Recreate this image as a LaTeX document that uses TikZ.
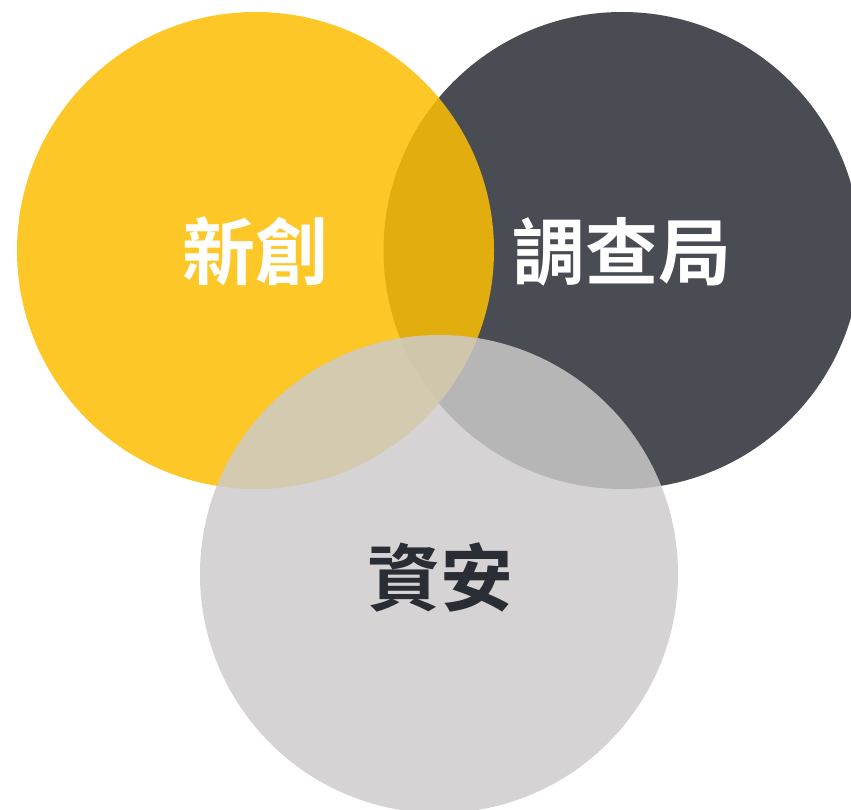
\documentclass[tikz,border=0pt]{standalone}
\usepackage{fontspec}
\newfontfamily\cjkb[BoldFont={Noto Sans CJK TC Bold}]{Noto Sans CJK TC}
\definecolor{cyellow}{RGB}{253,190,2}
\definecolor{cdark}{RGB}{74,76,84}
\definecolor{cgray}{RGB}{205,203,203}
\definecolor{ctext}{RGB}{43,45,53}
\tikzset{
  lbl/.style={font=\cjkb\bfseries\fontsize{73}{73}\selectfont, inner sep=0pt},
}
\begin{document}
\begin{tikzpicture}[x=1pt,y=-1pt]
\useasboundingbox (0,0) rectangle (851,810);
\clip (0,0) rectangle (851,810);
\fill[white] (0,0) rectangle (851,810);
\fill[cdark] (622,250.5) circle[radius=238.5];
\fill[cyellow, fill opacity=0.85] (255.5,250.5) circle[radius=238.5];
\fill[cgray, fill opacity=0.84] (439,574) circle[radius=239];
\node[lbl, text=white] (xinchuang) at (255,251) {新創};
\node[lbl, text=white] (diaocha) at (621.5,252) {調查局};
\node[lbl, text=ctext] (zian) at (440,577) {資安};
\end{tikzpicture}
\end{document}
